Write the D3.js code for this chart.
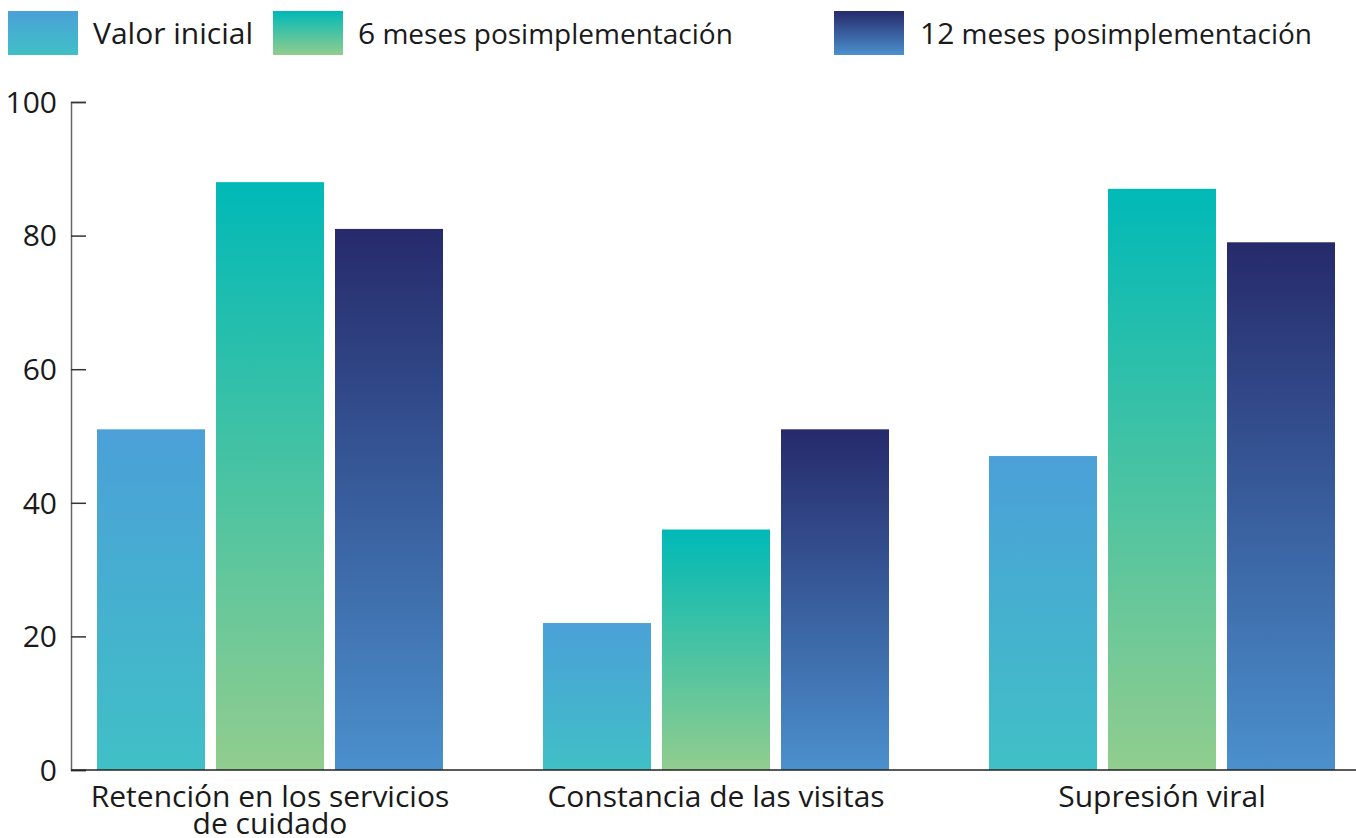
<!DOCTYPE html>
<html><head><meta charset="utf-8">
<script src="https://cdn.jsdelivr.net/npm/d3@7"></script>
<style>body{margin:0;background:#fff;} text{font-family:"Open Sans",Lato,sans-serif;fill:#1a1a1a;}</style>
</head><body>
<svg id="c" width="1356" height="838"></svg>
<script>
const categories = [["Retención en los servicios","de cuidado"],["Constancia de las visitas"],["Supresión viral"]];
const seriesNames = ["Valor inicial","6 meses posimplementación","12 meses posimplementación"];
const valorInicial = [51,22,47];
const seis = [88,36,87];
const doce = [81,51,79];
const yTicks = [0,20,40,60,80,100];
const gradColors = [["#4ba0d8","#40c0c6"],["#00b9b7","#91cd8e"],["#262a6b","#4b90cd"]];

const svg = d3.select("#c");
const defs = svg.append("defs");
gradColors.forEach((c,i)=>{
  const g = defs.append("linearGradient").attr("id","g"+i).attr("x1",0).attr("y1",0).attr("x2",0).attr("y2",1);
  g.append("stop").attr("offset","0%").attr("stop-color",c[0]);
  g.append("stop").attr("offset","100%").attr("stop-color",c[1]);
});
const series = [valorInicial, seis, doce];
const catKeys = categories.map(d=>d.join(" "));
const x0 = d3.scaleBand().domain(catKeys).range([97,1335]).paddingInner(0.2242).paddingOuter(0);
const x1 = d3.scaleBand().domain(d3.range(3)).range([0,x0.bandwidth()]).paddingInner(0.0924).paddingOuter(0);
const y = d3.scaleLinear().domain([0,100]).range([770,102]);

// bars
catKeys.forEach((k,ci)=>{
  series.forEach((s,si)=>{
    svg.append("rect").attr("x",x0(k)+x1(si)).attr("y",y(s[ci])).attr("width",x1.bandwidth()).attr("height",y(0)-y(s[ci])).attr("fill","url(#g"+si+")");
  });
});

// y axis
const yAxis = svg.append("g").attr("transform","translate(71,0)").call(d3.axisRight(y).tickValues(yTicks).tickSize(15).tickFormat(""));
yAxis.select(".domain").attr("stroke","#666").attr("stroke-width",1.5);
yAxis.selectAll(".tick line").attr("stroke","#333").attr("stroke-width",1.5);
yTicks.forEach(t=>{
  svg.append("text").attr("x",57).attr("y",y(t)).attr("dy","0.36em").attr("text-anchor","end").attr("font-size",30).text(t);
});
// x axis line
svg.append("line").attr("x1",71).attr("x2",1356).attr("y1",770).attr("y2",770).attr("stroke","#222").attr("stroke-width",1.5);
// x labels
categories.forEach((lines,ci)=>{
  const cx = x0(catKeys[ci]) + x0.bandwidth()/2;
  lines.forEach((l,li)=>{
    svg.append("text").attr("x",cx).attr("y",807+li*27).attr("text-anchor","middle").attr("font-size",30).text(l);
  });
});
// legend
const legX = [8,273,834];
seriesNames.forEach((n,i)=>{
  svg.append("rect").attr("x",legX[i]).attr("y",11).attr("width",70).attr("height",44).attr("fill","url(#g"+i+")");
  const m = n.match(/^(\d+)?(.*)$/);
  const t = svg.append("text").attr("x",legX[i]+85+(i===2?1:0)).attr("y",44).attr("font-size",30);
  if(i===0){ t.text(n); }
  else { t.append("tspan").text(m[1]); t.append("tspan").attr("font-size",28).text(m[2]); }
});
</script>
</body></html>
